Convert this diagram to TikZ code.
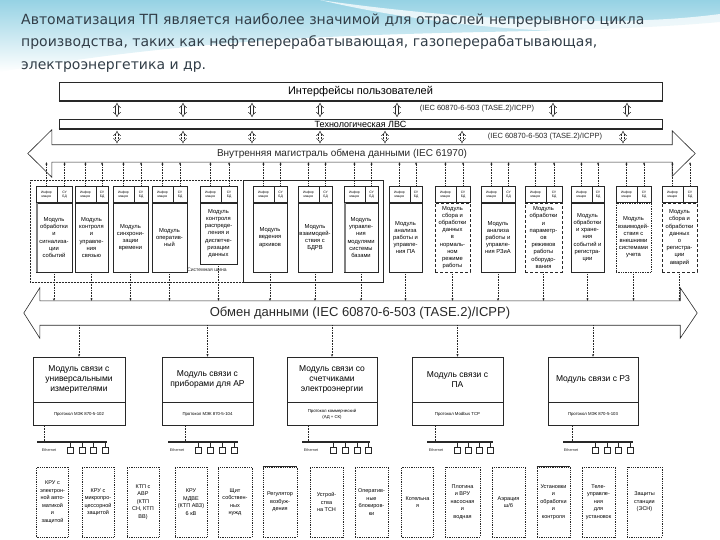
\documentclass[tikz,border=0pt]{standalone}
\usepackage{fontspec}
\setmainfont{Liberation Sans}
\newfontfamily\titlefont{DejaVu Sans}
\usetikzlibrary{positioning,arrows.meta}
\definecolor{bgblue}{RGB}{150,210,228}
\definecolor{titlegray}{RGB}{50,62,72}
\definecolor{linegray}{RGB}{40,40,40}

\begin{document}
\begin{tikzpicture}[x=1pt,y=-1pt,
  bar/.style={draw=linegray, line width=0.6pt, inner sep=0pt},
  dbl/.style={linegray, double=white, double distance=2.2pt, line width=0.5pt, {Implies}-{Implies}, shorten <=1.5pt, shorten >=1.5pt},
  dbldot/.style={dbl, densely dotted},
  modbox/.style={draw=linegray, line width=0.7pt, inner sep=0pt, align=center, minimum height=69pt, font=\fontsize{5.8}{7.2}\selectfont},
  modboxd/.style={modbox, densely dashed},
  modhead/.style={draw=linegray, line width=0.6pt, inner sep=0pt, align=center, minimum height=16pt, font=\fontsize{3.3}{4}\selectfont},
  vlink/.style={linegray, line width=0.6pt, densely dotted},
  linkbox/.style={draw=linegray, line width=0.7pt, align=center, inner sep=1pt, minimum height=45pt, font=\fontsize{8.5}{10}\selectfont},
  protbox/.style={draw=linegray, line width=0.7pt, align=center, inner sep=1pt, minimum height=23pt, font=\fontsize{4.3}{5.3}\selectfont},
  devbox/.style={draw=linegray, line width=0.8pt, densely dotted, align=center, inner sep=1pt, minimum width=32pt, minimum height=70pt, font=\fontsize{5.5}{7.5}\selectfont},
  devicon/.style={draw=linegray, line width=0.5pt, minimum size=6pt, inner sep=0pt},
  ethlbl/.style={font=\fontsize{3.8}{4.5}\selectfont, text=linegray, inner sep=0pt}
]
\useasboundingbox (0,0) rectangle (720,540);

% background of the slide
\shade[top color=bgblue, bottom color=white] (0,0) -- (720,0) -- (720,22) .. controls (520,40) and (300,20) .. (0,72) -- cycle;
\fill[white, opacity=0.75] (320,0) .. controls (430,16) and (600,30) .. (720,14) -- (720,24) .. controls (590,42) and (430,26) .. (320,0) -- cycle;

\node[anchor=north west, align=left, inner sep=0pt, text=titlegray, font=\titlefont\fontsize{14}{22.5}\selectfont] (title) at (21,13) {Автоматизация ТП является наиболее значимой для отраслей непрерывного цикла\\производства, таких как нефтеперерабатывающая, газоперерабатывающая,\\электроэнергетика и др.};

% upper levels
\node[bar, minimum width=603pt, minimum height=19pt, font=\fontsize{11}{12}\selectfont] (iface) at (360.5,91.5) {Интерфейсы пользователей};
\draw[linegray, line width=1.6pt] (iface.south west) -- (iface.south east) -- (iface.north east);
\node[bar, minimum width=603pt, minimum height=10pt, font=\fontsize{9}{10}\selectfont] (lan) at (360.5,124) {Технологическая ЛВС};
\draw[linegray, line width=1.6pt] (lan.south west) -- (lan.south east);

\coordinate (a1) at (117,0);
\coordinate (a2) at (183,0);
\coordinate (a3) at (252,0);
\coordinate (a4) at (320,0);
\coordinate (a5) at (397,0);
\coordinate (a6) at (553,0);
\coordinate (a7) at (627,0);
\foreach \i in {1,...,7} {\draw[dbl] (iface.south -| a\i) -- (lan.north -| a\i);}
\node[font=\fontsize{7.5}{8}\selectfont, text=linegray, inner sep=0pt] (proto1) at (477,109) {(IEC 60870-6-503 (TASE.2)/ICPP)};

% inner data bus
\node[inner sep=0pt, minimum width=620pt, minimum height=17pt] (mag) at (362,153.5) {};
\draw[linegray, line width=0.6pt] ([xshift=-24pt]mag.west) -- ([yshift=15pt]mag.north west) -- (mag.north west) -- (mag.north east) -- ([yshift=14pt]mag.north east) -- ([xshift=23pt]mag.east) -- ([yshift=-14pt]mag.south east) -- (mag.south east) -- (mag.south west) -- ([yshift=-15pt]mag.south west) -- cycle;
\node[font=\fontsize{10}{11}\selectfont, text=linegray, inner sep=0pt] (magtext) at (342,153.5) {Внутренняя магистраль обмена данными (IEC 61970)};

\coordinate (b1) at (117,0);
\coordinate (b2) at (183,0);
\coordinate (b3) at (252,0);
\coordinate (b4) at (320,0);
\coordinate (b5) at (385,0);
\coordinate (b6) at (462,0);
\coordinate (b7) at (623,0);
\foreach \i in {1,...,7} {\draw[dbldot] (lan.south -| b\i) -- (mag.north -| b\i);}
\node[font=\fontsize{7.5}{8}\selectfont, text=linegray, inner sep=0pt] (proto2) at (545,137) {(IEC 60870-6-503 (TASE.2)/ICPP)};

% system bus frames
\node[draw=linegray, line width=0.5pt, densely dotted, minimum width=213pt, minimum height=102pt, inner sep=0pt] (sysbus) at (136.5,231) {};
\node[draw=linegray, line width=0.4pt, minimum width=140pt, minimum height=102pt, inner sep=0pt] (group2) at (313,231) {};
\node[font=\fontsize{5}{6}\selectfont, text=linegray, inner sep=0pt] (sysbuslbl) at (207,270) {Системная шина};

% modules
\node[modbox, minimum width=36pt] (m1) at (54,237.5) {Модуль\\обработки\\и\\сигнализа-\\ции\\событий};
\node[modhead, minimum width=21pt, anchor=south west] (inf1) at (m1.north west) {Инфор\\мация};
\node[modhead, minimum width=15pt, anchor=south east] (su1) at (m1.north east) {СУ\\БД};
\draw[gray, line width=1.8pt] ([xshift=1pt]m1.north west) -- ([xshift=1pt]m1.south west);
\node[modbox, minimum width=33pt] (m2) at (91.5,237.5) {Модуль\\контроля\\и\\управле-\\ния\\связью};
\node[modhead, minimum width=21pt, anchor=south west] (inf2) at (m2.north west) {Инфор\\мация};
\node[modhead, minimum width=12pt, anchor=south east] (su2) at (m2.north east) {СУ\\БД};
\node[modbox, minimum width=35pt] (m3) at (130.5,237.5) {Модуль\\синхрони-\\зации\\времени};
\node[modhead, minimum width=21pt, anchor=south west] (inf3) at (m3.north west) {Инфор\\мация};
\node[modhead, minimum width=14pt, anchor=south east] (su3) at (m3.north east) {СУ\\БД};
\node[modbox, minimum width=35pt] (m4) at (169.5,237.5) {Модуль\\оператив-\\ный};
\node[modhead, minimum width=21pt, anchor=south west] (inf4) at (m4.north west) {Инфор\\мация};
\node[modhead, minimum width=14pt, anchor=south east] (su4) at (m4.north east) {СУ\\БД};
\node[modbox, minimum width=37pt, minimum height=61pt] (m5) at (218.5,233.5) {Модуль\\контроля\\распреде-\\ления и\\диспетче-\\ризации\\данных};
\node[modhead, minimum width=21pt, anchor=south west] (inf5) at (m5.north west) {Инфор\\мация};
\node[modhead, minimum width=16pt, anchor=south east] (su5) at (m5.north east) {СУ\\БД};
\node[modbox, minimum width=34pt] (m6) at (270,237.5) {Модуль\\ведения\\архивов};
\node[modhead, minimum width=21pt, anchor=south west] (inf6) at (m6.north west) {Инфор\\мация};
\node[modhead, minimum width=13pt, anchor=south east] (su6) at (m6.north east) {СУ\\БД};
\node[modbox, minimum width=34pt] (m7) at (315,237.5) {Модуль\\взаимодей-\\ствия с\\БДРВ};
\node[modhead, minimum width=21pt, anchor=south west] (inf7) at (m7.north west) {Инфор\\мация};
\node[modhead, minimum width=13pt, anchor=south east] (su7) at (m7.north east) {СУ\\БД};
\node[modbox, minimum width=34pt] (m8) at (361,237.5) {Модуль\\управле-\\ния\\модулями\\системы\\базами};
\node[modhead, minimum width=21pt, anchor=south west] (inf8) at (m8.north west) {Инфор\\мация};
\node[modhead, minimum width=13pt, anchor=south east] (su8) at (m8.north east) {СУ\\БД};
\draw[gray, line width=1.8pt] ([xshift=1pt]m8.north west) -- ([xshift=1pt]m8.south west);
\node[modbox, minimum width=33pt] (m9) at (405.5,237.5) {Модуль\\анализа\\работы и\\управле-\\ния ПА};
\node[modhead, minimum width=21pt, anchor=south west] (inf9) at (m9.north west) {Инфор\\мация};
\node[modhead, minimum width=12pt, anchor=south east] (su9) at (m9.north east) {СУ\\БД};
\node[modboxd, minimum width=35pt] (m10) at (452.5,237.5) {Модуль\\сбора и\\обработки\\данных\\в\\нормаль-\\ном\\режиме\\работы};
\node[modhead, minimum width=21pt, anchor=south west] (inf10) at (m10.north west) {Инфор\\мация};
\node[modhead, minimum width=14pt, anchor=south east] (su10) at (m10.north east) {СУ\\БД};
\node[modbox, minimum width=34pt] (m11) at (498,237.5) {Модуль\\анализа\\работы и\\управле-\\ния РЗиА};
\node[modhead, minimum width=21pt, anchor=south west] (inf11) at (m11.north west) {Инфор\\мация};
\node[modhead, minimum width=13pt, anchor=south east] (su11) at (m11.north east) {СУ\\БД};
\node[modboxd, minimum width=37pt] (m12) at (543.5,237.5) {Модуль\\обработки\\и\\параметр-\\ов\\режимов\\работы\\оборудо-\\вания};
\node[modhead, minimum width=21pt, anchor=south west] (inf12) at (m12.north west) {Инфор\\мация};
\node[modhead, minimum width=16pt, anchor=south east] (su12) at (m12.north east) {СУ\\БД};
\node[modbox, minimum width=33pt] (m13) at (587.5,237.5) {Модуль\\обработки\\и хране-\\ния\\событий и\\регистра-\\ции};
\node[modhead, minimum width=21pt, anchor=south west] (inf13) at (m13.north west) {Инфор\\мация};
\node[modhead, minimum width=12pt, anchor=south east] (su13) at (m13.north east) {СУ\\БД};
\node[modbox, densely dotted, minimum width=35pt] (m14) at (633.5,237.5) {Модуль\\взаимодей-\\ствия с\\внешними\\системами\\учета};
\node[modhead, minimum width=21pt, anchor=south west] (inf14) at (m14.north west) {Инфор\\мация};
\node[modhead, minimum width=14pt, anchor=south east] (su14) at (m14.north east) {СУ\\БД};
\node[modboxd, minimum width=35pt] (m15) at (679.5,237.5) {Модуль\\сбора и\\обработки\\данных\\о\\регистра-\\ции\\аварий};
\node[modhead, minimum width=21pt, anchor=south west] (inf15) at (m15.north west) {Инфор\\мация};
\node[modhead, minimum width=14pt, anchor=south east] (su15) at (m15.north east) {СУ\\БД};

\foreach \i in {1,...,15} {
  \draw[vlink, {Stealth[length=2.5pt,width=2.2pt]}-] (mag.south -| inf\i) -- (inf\i.north);
  \draw[vlink, {Stealth[length=2.5pt,width=2.2pt]}-] (mag.south -| su\i) -- (su\i.north);
}

% data exchange bus
\node[inner sep=0pt, minimum width=640pt, minimum height=24pt, font=\fontsize{13}{14}\selectfont, text=linegray] (obmen) at (360,313) {Обмен данными (IEC 60870-6-503 (TASE.2)/ICPP)};
\draw[linegray, line width=0.6pt] ([xshift=-16pt]obmen.west) -- ([yshift=13pt]obmen.north west) -- (obmen.north west) -- (obmen.north east) -- ([yshift=13pt]obmen.north east) -- ([xshift=17pt]obmen.east) -- ([yshift=-13pt]obmen.south east) -- (obmen.south east) -- (obmen.south west) -- ([yshift=-13pt]obmen.south west) -- cycle;
\foreach \i in {1,...,15} {\draw[vlink, -{Stealth[length=2.5pt,width=2.2pt]}] (m\i.south) -- (obmen.north -| m\i);}

% link modules
\node[linkbox, minimum width=92pt] (l1) at (79,379.5) {Модуль связи с\\универсальными\\измерителями};
\node[protbox, minimum width=92pt, below=0pt of l1] (p1) {Протокол МЭК 870-5-102};
\node[linkbox, minimum width=91pt] (l2) at (207.5,379.5) {Модуль связи с\\приборами для АР};
\node[protbox, minimum width=91pt, below=0pt of l2] (p2) {Протокол МЭК 870-5-104};
\node[linkbox, minimum width=90pt] (l3) at (332,379.5) {Модуль связи со\\счетчиками\\электроэнергии};
\node[protbox, minimum width=90pt, below=0pt of l3] (p3) {Протокол коммерческий\\(АД + СК)};
\node[linkbox, minimum width=91pt] (l4) at (457.5,379.5) {Модуль связи с\\ПА};
\node[protbox, minimum width=91pt, below=0pt of l4] (p4) {Протокол Modbus TCP};
\node[linkbox, minimum width=90pt] (l5) at (593,379.5) {Модуль связи с РЗ};
\node[protbox, minimum width=90pt, below=0pt of l5] (p5) {Протокол МЭК 870-5-103};
\foreach \i in {1,...,5} {\draw[vlink, -{Stealth[length=2.5pt,width=2.2pt]}] (obmen.south -| l\i) -- (l\i.north);}

% Ethernet segments
\coordinate (e1w) at (37,442);  \coordinate (e1e) at (107,442); \coordinate (t1) at (44,442);
\coordinate (e2w) at (168,442); \coordinate (e2e) at (238,442); \coordinate (t2) at (185,442);
\coordinate (e3w) at (302,442); \coordinate (e3e) at (370,442); \coordinate (t3) at (308,442);
\coordinate (e4w) at (427,442); \coordinate (e4e) at (493,442); \coordinate (t4) at (435,442);
\coordinate (e5w) at (563,442); \coordinate (e5e) at (633,442); \coordinate (t5) at (572,442);
\foreach \i in {1,...,5} {
  \draw[linegray, line width=1.1pt] (e\i w) -- (e\i e);
  \draw[vlink] (p\i.south -| t\i) -- (t\i);
}
\node[ethlbl] (eth1) at (49,450) {Ethernet};
\node[ethlbl] (eth2) at (177,450) {Ethernet};
\node[ethlbl] (eth3) at (311,450) {Ethernet};
\node[ethlbl] (eth4) at (436,450) {Ethernet};
\node[ethlbl] (eth5) at (571,450) {Ethernet};
\foreach \x [count=\k] in {70,82,93,105} {\node[devicon] (ia\k) at (\x,450) {}; \draw[linegray, line width=0.5pt] (ia\k.north) -- (ia\k.north |- e1w);}
\foreach \x [count=\k] in {198,210,222,234} {\node[devicon] (ib\k) at (\x,450) {}; \draw[linegray, line width=0.5pt] (ib\k.north) -- (ib\k.north |- e2w);}
\foreach \x [count=\k] in {333,345,357,368} {\node[devicon] (ic\k) at (\x,450) {}; \draw[linegray, line width=0.5pt] (ic\k.north) -- (ic\k.north |- e3w);}
\foreach \x [count=\k] in {457,468,479,490} {\node[devicon] (id\k) at (\x,450) {}; \draw[linegray, line width=0.5pt] (id\k.north) -- (id\k.north |- e4w);}
\foreach \x [count=\k] in {595,607,618,630} {\node[devicon] (ie\k) at (\x,450) {}; \draw[linegray, line width=0.5pt] (ie\k.north) -- (ie\k.north |- e5w);}

% field equipment
\node[devbox] (k1) at (52.5,502) {КРУ с\\электрон-\\ной авто-\\матикой\\и\\защитой};
\node[devbox] (k2) at (98,502) {КРУ с\\микропро-\\цессорной\\защитой};
\node[devbox] (k3) at (143,502) {КТП с\\АВР\\(КТП\\СН, КТП\\ВВ)};
\node[devbox] (k4) at (191,502) {КРУ\\МДВЕ\\(КТП АВЗ)\\6 кВ};
\node[devbox, minimum width=34pt] (k5) at (235,502) {Щит\\собствен-\\ных\\нужд};
\node[devbox, minimum width=34pt] (k6) at (280,502) {Регулятор\\возбуж-\\дения};
\draw[linegray, line width=1.6pt] (k6.north west) -- (k6.north east);
\node[devbox, minimum width=33pt] (k7) at (326.5,502) {Устрой-\\ства\\на ТСН};
\node[devbox, minimum width=33pt] (k8) at (371.5,502) {Оператив-\\ные\\блокиров-\\ки};
\node[devbox] (k9) at (417.5,502) {Котельна\\я};
\node[devbox, minimum width=35pt] (k10) at (462.5,502) {Плотина\\и ВРУ\\насосная\\и\\водная};
\node[devbox, minimum width=33pt] (k11) at (508.5,502) {Аэрация\\ш/б};
\node[devbox, minimum width=33pt] (k12) at (553.5,502) {Установки\\и\\обработки\\и\\контроля};
\draw[linegray, line width=1.6pt] (k12.north west) -- (k12.north east);
\node[devbox, minimum width=33pt] (k13) at (598.5,502) {Теле-\\управле-\\ния\\для\\установок};
\node[devbox, minimum width=35pt] (k14) at (644.5,502) {Защиты\\станции\\(ЭСН)};
\end{tikzpicture}
\end{document}
